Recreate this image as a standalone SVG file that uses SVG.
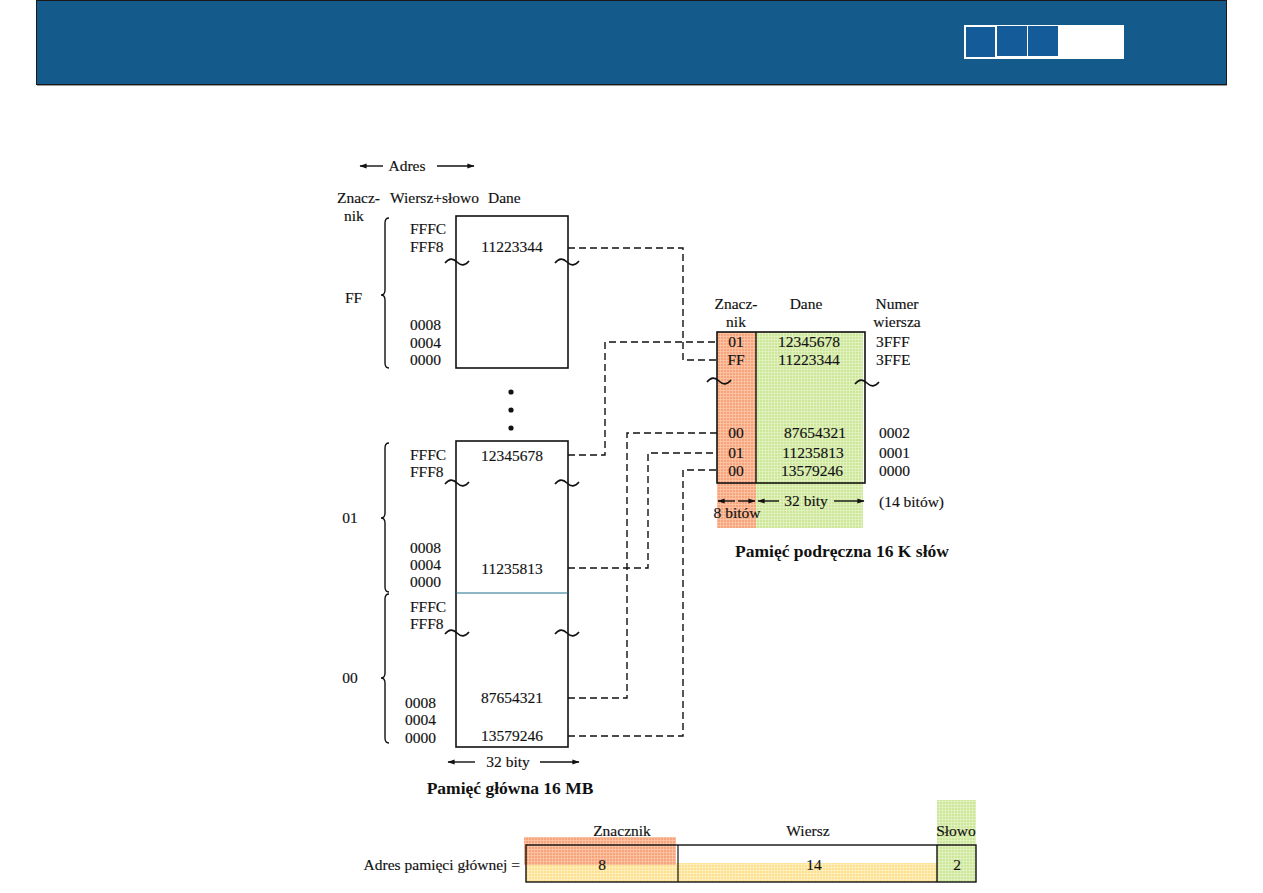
<svg xmlns="http://www.w3.org/2000/svg" width="1263" height="893" viewBox="0 0 1263 893">
<style>
.t{font-family:"Liberation Serif","Times New Roman",serif;font-size:15.5px;fill:#111;stroke:#111;stroke-width:0.15}
.b{font-family:"Liberation Serif","Times New Roman",serif;font-size:17.5px;font-weight:bold;fill:#111}
.box{fill:#fff;stroke:#111;stroke-width:1.6}
.dash{fill:none;stroke:#111;stroke-width:1.4;stroke-dasharray:7,4}
.ln{fill:none;stroke:#111;stroke-width:1.4}
.tl{fill:none;stroke:#111;stroke-width:1.6}
.m{text-anchor:middle}
</style>
<defs>
<marker id="ah" viewBox="0 0 12 10" refX="11" refY="5" markerWidth="12" markerHeight="6" orient="auto-start-reverse" markerUnits="userSpaceOnUse">
<path d="M0,1 L12,5 L0,9 Z" fill="#111"/>
</marker>
<pattern id="po" width="3" height="3" patternUnits="userSpaceOnUse">
<rect width="3" height="3" fill="#f7a47c"/><path d="M0,0.5H3M0.5,0V3" stroke="#fbc6a8" stroke-width="0.8"/>
</pattern>
<pattern id="pg" width="3" height="3" patternUnits="userSpaceOnUse">
<rect width="3" height="3" fill="#cde79a"/><path d="M0,0.5H3M0.5,0V3" stroke="#e3f2c4" stroke-width="0.8"/>
</pattern>
<pattern id="py" width="3" height="3" patternUnits="userSpaceOnUse">
<rect width="3" height="3" fill="#fde18c"/><path d="M0,0.5H3M0.5,0V3" stroke="#fff0c4" stroke-width="0.8"/>
</pattern>
</defs>

<g id="header">
<rect x="36.5" y="0.5" width="1190" height="84" fill="#145b8c" stroke="#1a1a1a" stroke-width="1"/>
<line x1="37" y1="85.5" x2="1227" y2="85.5" stroke="#999" stroke-width="1"/>
<rect x="964" y="25" width="160" height="34" fill="#fff"/>
<rect x="966" y="27" width="29" height="30" fill="#145b9a"/>
<rect x="997" y="26" width="30" height="30" fill="#145b9a"/>
<rect x="1028" y="26" width="30" height="30" fill="#145b9a"/>
</g>

<g id="mm-headings">
<line x1="383" y1="166" x2="360" y2="166" class="ln" marker-end="url(#ah)"/>
<line x1="437" y1="166" x2="474" y2="166" class="ln" marker-end="url(#ah)"/>
<text x="407" y="171" class="t m">Adres</text>
<text x="337" y="203" class="t">Znacz-</text>
<text x="344" y="221" class="t">nik</text>
<text x="390" y="203" class="t">Wiersz+słowo</text>
<text x="488" y="203" class="t">Dane</text>
</g>

<g id="mm-block-ff">
<rect x="456" y="216" width="112" height="152" class="box"/>
<text x="512" y="252" class="t m">11223344</text>
<path d="M445,263 c4,-5 8,-5 12,-1 s8,4 12,-1" class="tl"/>
<path d="M555,263 c4,-5 8,-5 12,-1 s8,4 12,-1" class="tl"/>
<text x="410" y="234" class="t">FFFC</text>
<text x="410" y="252" class="t">FFF8</text>
<text x="410" y="330" class="t">0008</text>
<text x="410" y="348" class="t">0004</text>
<text x="410" y="365" class="t">0000</text>
<path d="M389,218 q-4,0 -4,5 L385,290 q0,5 -4,5 q4,0 4,5 L385,363 q0,5 4,5" class="ln"/>
<text x="345" y="303" class="t">FF</text>
</g>

<g id="dots">
<circle cx="511" cy="392" r="2.6" fill="#111"/>
<circle cx="511" cy="410" r="2.6" fill="#111"/>
<circle cx="511" cy="428" r="2.6" fill="#111"/>
</g>

<g id="mm-block-01-00">
<rect x="456" y="441" width="112" height="306" class="box"/>
<line x1="456" y1="593" x2="568" y2="593" stroke="#1f6f8a" stroke-width="1.2"/>
<text x="512" y="461" class="t m">12345678</text>
<text x="512" y="574" class="t m">11235813</text>
<text x="512" y="703" class="t m">87654321</text>
<text x="512" y="741" class="t m">13579246</text>
<path d="M445,484 c4,-5 8,-5 12,-1 s8,4 12,-1" class="tl"/>
<path d="M555,484 c4,-5 8,-5 12,-1 s8,4 12,-1" class="tl"/>
<path d="M445,634 c4,-5 8,-5 12,-1 s8,4 12,-1" class="tl"/>
<path d="M555,634 c4,-5 8,-5 12,-1 s8,4 12,-1" class="tl"/>
<text x="410" y="460" class="t">FFFC</text>
<text x="410" y="477" class="t">FFF8</text>
<text x="410" y="553" class="t">0008</text>
<text x="410" y="570" class="t">0004</text>
<text x="410" y="587" class="t">0000</text>
<text x="410" y="612" class="t">FFFC</text>
<text x="410" y="629" class="t">FFF8</text>
<text x="405" y="708" class="t">0008</text>
<text x="405" y="725" class="t">0004</text>
<text x="405" y="743" class="t">0000</text>
<path d="M389,443 q-4,0 -4,5 L385,513 q0,5 -4,5 q4,0 4,5 L385,587 q0,5 4,5" class="ln"/>
<path d="M389,594 q-4,0 -4,5 L385,673 q0,5 -4,5 q4,0 4,5 L385,738 q0,5 4,5" class="ln"/>
<text x="350" y="523" class="t m">01</text>
<text x="350" y="683" class="t m">00</text>
<line x1="475" y1="762" x2="448" y2="762" class="ln" marker-end="url(#ah)"/>
<line x1="540" y1="762" x2="579" y2="762" class="ln" marker-end="url(#ah)"/>
<text x="508" y="767" class="t m">32 bity</text>
<text x="510" y="794" class="b m">Pamięć główna 16 MB</text>
</g>

<g id="cache">
<rect x="717" y="332" width="39" height="196" fill="url(#po)"/>
<rect x="756" y="332" width="107" height="196" fill="url(#pg)"/>
<rect x="717" y="332" width="148" height="151" fill="none" stroke="#111" stroke-width="1.6"/>
<line x1="756" y1="332" x2="756" y2="483" stroke="#111" stroke-width="1.4"/>
<text x="736" y="309" class="t m">Znacz-</text>
<text x="736" y="327" class="t m">nik</text>
<text x="806" y="309" class="t m">Dane</text>
<text x="897" y="309" class="t m">Numer</text>
<text x="897" y="327" class="t m">wiersza</text>
<text x="736" y="347" class="t m">01</text>
<text x="809" y="347" class="t m">12345678</text>
<text x="876" y="347" class="t">3FFF</text>
<text x="736" y="365" class="t m">FF</text>
<text x="809" y="365" class="t m">11223344</text>
<text x="876" y="365" class="t">3FFE</text>
<path d="M707,382 c4,-5 8,-5 12,-1 s8,4 12,-1" class="tl"/>
<path d="M855,384 c4,-5 8,-5 12,-1 s8,4 12,-1" class="tl"/>
<text x="736" y="438" class="t m">00</text>
<text x="815" y="438" class="t m">87654321</text>
<text x="879" y="438" class="t">0002</text>
<text x="736" y="458" class="t m">01</text>
<text x="813" y="458" class="t m">11235813</text>
<text x="879" y="458" class="t">0001</text>
<text x="736" y="476" class="t m">00</text>
<text x="812" y="476" class="t m">13579246</text>
<text x="879" y="476" class="t">0000</text>
<line x1="735" y1="501" x2="718" y2="501" class="ln" marker-end="url(#ah)"/>
<line x1="738" y1="501" x2="755" y2="501" class="ln" marker-end="url(#ah)"/>
<line x1="779" y1="501" x2="758" y2="501" class="ln" marker-end="url(#ah)"/>
<line x1="834" y1="501" x2="864" y2="501" class="ln" marker-end="url(#ah)"/>
<text x="806" y="506" class="t m">32 bity</text>
<text x="737" y="518" class="t m">8 bitów</text>
<text x="879" y="507" class="t">(14 bitów)</text>
<text x="842" y="557" class="b m">Pamięć podręczna 16 K słów</text>
</g>

<g id="connectors">
<path d="M568,248 H683 V360 H717" class="dash"/>
<path d="M568,455 H605 V342 H717" class="dash"/>
<path d="M568,568 H648 V453 H717" class="dash"/>
<path d="M568,698 H627 V433 H717" class="dash"/>
<path d="M568,736 H683 V470 H717" class="dash" stroke-width="1.1"/>
</g>

<g id="address-format">
<rect x="526" y="863" width="411" height="19" fill="url(#py)"/>
<rect x="524" y="837" width="152" height="28" fill="url(#po)"/>
<rect x="937" y="800" width="39" height="82" fill="url(#pg)"/>
<rect x="526" y="845" width="450" height="37" fill="none" stroke="#111" stroke-width="1.4"/>
<line x1="678" y1="845" x2="678" y2="882" stroke="#111" stroke-width="1.2"/>
<line x1="937" y1="845" x2="937" y2="882" stroke="#111" stroke-width="1.4"/>
<text x="622" y="836" class="t m">Znacznik</text>
<text x="808" y="836" class="t m">Wiersz</text>
<text x="956" y="836" class="t m">Słowo</text>
<text x="520" y="870" class="t" text-anchor="end" style="font-size:15.5px">Adres pamięci głównej =</text>
<text x="602" y="870" class="t m">8</text>
<text x="814" y="870" class="t m">14</text>
<text x="957" y="870" class="t m">2</text>
</g>
</svg>
